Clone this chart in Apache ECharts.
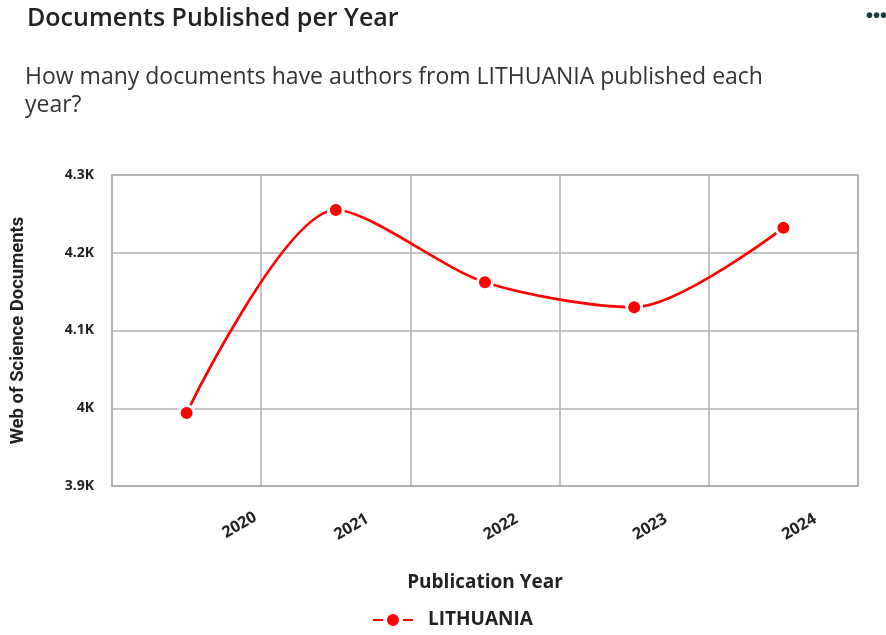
<!DOCTYPE html>
<html>
<head>
<meta charset="utf-8">
<script src="https://cdn.jsdelivr.net/npm/echarts@6/dist/echarts.min.js"></script>
<style>
html,body{margin:0;padding:0;background:#fff;}
#c{width:886px;height:635px;}
</style>
</head>
<body>
<div id="c"></div>
<script>
const years = ['2020', '2021', '2022', '2023', '2024'];
const lithuania = [3994, 4255, 4162, 4130, 4232];
const yTicks = [3900, 4000, 4100, 4200, 4300];

const chart = echarts.init(document.getElementById('c'));
const labelFont = 'Open Sans';
chart.setOption({
  animation: false,
  backgroundColor: '#fff',
  title: [
    {
      text: 'Documents Published per Year',
      left: 22, top: 1,
      textStyle: {fontFamily: labelFont, fontSize: 25, fontWeight: 600, color: '#222'}
    },
    {
      text: 'How many documents have authors from LITHUANIA published each\nyear?',
      left: 20, top: 58,
      textStyle: {fontFamily: labelFont, fontSize: 23, fontWeight: 400, color: '#333', lineHeight: 28}
    },
    {
      text: '•••',
      right: -6, top: 1,
      textStyle: {fontSize: 20, color: '#1d3c3c', fontWeight: 'bold'}
    }
  ],
  grid: {
    left: 112, right: 28, top: 175, bottom: 149,
    show: true, borderColor: '#b0b0b0', borderWidth: 1.5
  },
  legend: {
    bottom: 0, left: 367,
    itemWidth: 40, itemHeight: 20,
    data: ['LITHUANIA'],
    itemStyle: {borderColor: '#fff', borderWidth: 4},
    textStyle: {fontFamily: labelFont, fontSize: 19, fontWeight: 'bold', color: '#222', padding: [0, 0, 0, 10]}
  },
  xAxis: {
    type: 'category',
    data: years.map((y, i) => i === 0
      ? {value: y, textStyle: {align: 'left', verticalAlign: 'top', padding: [9, 0, 0, 33]}}
      : y),
    boundaryGap: true,
    name: 'Publication Year',
    nameLocation: 'middle',
    nameGap: 87,
    nameTextStyle: {fontFamily: labelFont, fontSize: 19, fontWeight: 'bold', color: '#222'},
    axisLine: {show: true, lineStyle: {color: '#b0b0b0', width: 1.5}},
    axisTick: {show: false},
    axisLabel: {
      rotate: 30, align: 'left', verticalAlign: 'middle', margin: 50, interval: 0,
      fontFamily: labelFont, fontSize: 16, fontWeight: 'bold', color: '#222'
    },
    splitLine: {show: true, lineStyle: {color: '#b0b0b0', width: 1.5}}
  },
  yAxis: {
    type: 'value',
    min: 3900, max: 4300, interval: 100,
    name: 'Web of Science Documents',
    nameLocation: 'middle',
    nameGap: 84,
    nameTextStyle: {fontFamily: 'Roboto', fontSize: 18.5, fontWeight: 'bold', color: '#222'},
    axisLine: {show: true, lineStyle: {color: '#b0b0b0', width: 1.5}},
    axisTick: {show: false},
    axisLabel: {
      margin: 18,
      fontFamily: labelFont, fontSize: 14, fontWeight: 'bold', color: '#222',
      formatter: v => (v / 1000) + 'K'
    },
    splitLine: {show: true, lineStyle: {color: '#b0b0b0', width: 1.5}}
  },
  series: [{
    name: 'LITHUANIA',
    type: 'line',
    data: lithuania,
    smooth: 0.28,
    symbol: 'circle',
    symbolSize: 15,
    itemStyle: {color: '#ff0000', borderColor: '#fff', borderWidth: 3},
    lineStyle: {color: '#ff0000', width: 2.7}
  }]
});
</script>
</body>
</html>
